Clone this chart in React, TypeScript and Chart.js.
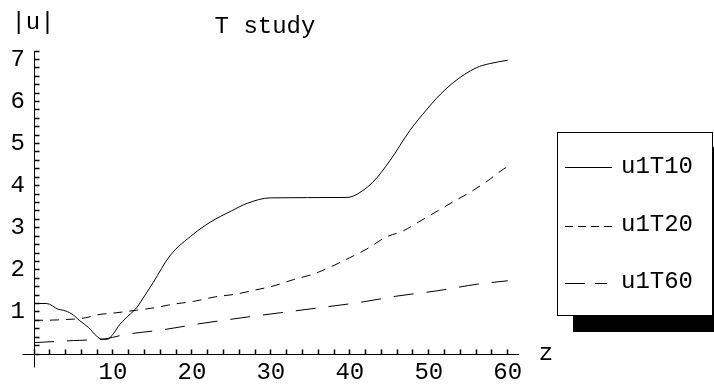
import React, { useEffect, useRef } from "react";
import { Chart, registerables } from "chart.js";

Chart.register(...registerables);

// ---- text ----
const TITLE = "T study";
const Y_AXIS_LABEL = "|u|";
const X_AXIS_LABEL = "z";
const SERIES_NAMES = ["u1T10", "u1T20", "u1T60"];

// ---- data ----
const zT10 = [0, 1.6, 3.1, 3.7, 4.8, 5.8, 6.9, 7.9, 8.6, 9.3, 10.0, 10.9, 12.2, 13.0, 14.0, 15.1, 17.2, 20.2, 22.3, 25.0, 27.0, 29.9, 39.4, 40.4, 42.9, 45.1, 47.6, 49.7, 51.0, 53.1, 56.0, 57.7, 60.0];
const uT10 = [1.2, 1.2, 1.06, 1.04, 0.95, 0.79, 0.63, 0.43, 0.35, 0.35, 0.47, 0.71, 0.95, 1.1, 1.38, 1.7, 2.33, 2.85, 3.13, 3.4, 3.58, 3.71, 3.72, 3.75, 4.08, 4.6, 5.31, 5.8, 6.08, 6.45, 6.8, 6.9, 6.98];

const zT20 = [0, 3, 6.5, 8.0, 10.4, 13.0, 15.3, 17.5, 20.2, 23.0, 25.5, 28.0, 30.4, 32.9, 35.4, 37.7, 40.0, 42.1, 44.5, 46.8, 49.0, 51.3, 53.3, 55.2, 57.5, 59.5, 60.0];
const uT20 = [0.8, 0.81, 0.86, 0.93, 0.98, 1.04, 1.1, 1.18, 1.25, 1.36, 1.42, 1.52, 1.62, 1.77, 1.9, 2.08, 2.29, 2.49, 2.77, 2.93, 3.17, 3.42, 3.64, 3.84, 4.12, 4.4, 4.45];

const zT60 = [0, 5, 9, 11.5, 16.5, 21.0, 26.3, 31.2, 36.2, 41.4, 46.1, 51.0, 56.2, 60.0];
const uT60 = [0.27, 0.32, 0.36, 0.46, 0.58, 0.72, 0.86, 0.98, 1.1, 1.23, 1.38, 1.5, 1.66, 1.74];

// ---- axes ----
const X_MIN = 0;
const X_MAX = 61.3;
const X_STEP = 2;
const X_TICK_LABELS = [10, 20, 30, 40, 50, 60];
const Y_MIN = 0;
const Y_MAX = 7.2;
const Y_STEP = 0.2;
const Y_TICK_LABELS = [1, 2, 3, 4, 5, 6, 7];

const FONT = "'Liberation Mono', 'Courier New', monospace";

function pts(z: number[], u: number[]) {
  return z.map((v, i) => ({ x: v, y: u[i] }));
}

const LEGEND_DASH: number[][] = [[], [8, 5], [20, 10]];
const LEGEND_LEN = [47, 47, 42];

const decorPlugin = {
  id: "decor",
  afterDraw(chart: any) {
    const ctx: CanvasRenderingContext2D = chart.ctx;
    const xs = chart.scales.x;
    const ys = chart.scales.y;
    const al = (p: number) => Math.round(p - 0.5) + 0.5;
    const x0 = al(xs.getPixelForValue(0));
    const y0 = al(ys.getPixelForValue(0));
    const xTicks: number[] = [];
    for (let k = 0; X_MIN + k * X_STEP <= X_MAX + 1e-9; k++) xTicks.push(X_MIN + k * X_STEP);
    const yTicks: number[] = [];
    for (let k = 0; Y_MIN + k * Y_STEP <= Y_MAX + 1e-9; k++) yTicks.push(Y_MIN + k * Y_STEP);

    ctx.save();
    ctx.setLineDash([]);
    ctx.lineWidth = 1;
    ctx.strokeStyle = "#000";
    ctx.beginPath();
    // axis overhangs past the origin
    ctx.moveTo(x0 - 12, y0);
    ctx.lineTo(x0, y0);
    ctx.moveTo(x0, y0);
    ctx.lineTo(x0, y0 + 13);
    ctx.stroke();
    // inward tick marks
    ctx.lineWidth = 1.5;
    ctx.beginPath();
    xTicks.forEach((v) => {
      const p = al(xs.getPixelForValue(v));
      ctx.moveTo(p, y0);
      ctx.lineTo(p, y0 - 5);
    });
    yTicks.forEach((v) => {
      const p = al(ys.getPixelForValue(v));
      ctx.moveTo(x0, p);
      ctx.lineTo(x0 + 5, p);
    });
    ctx.stroke();
    ctx.lineWidth = 1;

    // title and axis labels
    ctx.fillStyle = "#000";
    ctx.font = `24px ${FONT}`;
    ctx.textBaseline = "alphabetic";
    ctx.textAlign = "center";
    ctx.fillText(TITLE, 265, 33);
    ctx.fillText(Y_AXIS_LABEL, 33, 29);
    ctx.fillText(X_AXIS_LABEL, 546, 360);

    // legend with drop shadow
    ctx.fillStyle = "#000";
    ctx.fillRect(573, 147, 160, 185);
    ctx.fillStyle = "#fff";
    ctx.fillRect(557, 132, 156, 184);
    ctx.strokeStyle = "#000";
    ctx.strokeRect(557.5, 132.5, 155, 183);
    const rowsLine = [167, 226, 283];
    const rowsText = [173, 231, 288];
    chart.data.datasets.forEach((ds: any, i: number) => {
      ctx.beginPath();
      ctx.setLineDash(LEGEND_DASH[i]);
      ctx.strokeStyle = ds.borderColor;
      ctx.lineWidth = 1;
      ctx.moveTo(565, rowsLine[i] + 0.5);
      ctx.lineTo(565 + LEGEND_LEN[i], rowsLine[i] + 0.5);
      ctx.stroke();
      ctx.setLineDash([]);
      ctx.fillStyle = "#000";
      ctx.textAlign = "left";
      ctx.fillText(ds.label, 621, rowsText[i]);
    });
    ctx.restore();
  },
};

export default function App() {
  const ref = useRef<HTMLCanvasElement | null>(null);
  useEffect(() => {
    if (!ref.current) return;
    const lineBase = {
      borderColor: "#000",
      borderWidth: 1,
      pointRadius: 0,
      fill: false,
      cubicInterpolationMode: "monotone" as const,
    };
    const chart = new Chart(ref.current, {
      type: "line",
      data: {
        datasets: [
          { ...lineBase, label: SERIES_NAMES[0], data: pts(zT10, uT10), borderDash: [] },
          { ...lineBase, label: SERIES_NAMES[1], data: pts(zT20, uT20), borderDash: [9, 7] },
          { ...lineBase, label: SERIES_NAMES[2], data: pts(zT60, uT60), borderDash: [20, 13] },
        ],
      },
      options: {
        animation: false,
        responsive: false,
        devicePixelRatio: 1,
        layout: { padding: { top: 51, right: 196, bottom: 0, left: 0 } },
        plugins: {
          legend: { display: false },
          title: { display: false },
          tooltip: { enabled: false },
        },
        scales: {
          x: {
            type: "linear",
            position: "bottom",
            min: X_MIN,
            max: X_MAX,
            afterFit: (s: any) => {
              s.height = 34;
            },
            border: { display: true, color: "#000", width: 1 },
            grid: { drawOnChartArea: false, drawTicks: false, tickLength: 0 },
            ticks: {
              stepSize: X_STEP,
              autoSkip: false,
              includeBounds: false,
              maxRotation: 0,
              padding: 4,
              color: "#000",
              font: { family: FONT, size: 24 },
              callback: (v: any) => {
                const n = Math.round(Number(v));
                return Math.abs(Number(v) - n) < 1e-6 && X_TICK_LABELS.includes(n) ? String(n) : "";
              },
            },
          },
          y: {
            type: "linear",
            position: "left",
            min: Y_MIN,
            max: Y_MAX,
            afterFit: (s: any) => {
              s.width = 34;
            },
            border: { display: true, color: "#000", width: 1 },
            grid: { drawOnChartArea: false, drawTicks: false, tickLength: 0 },
            ticks: {
              stepSize: Y_STEP,
              autoSkip: false,
              includeBounds: false,
              padding: 9,
              color: "#000",
              font: { family: FONT, size: 24 },
              callback: (v: any) => {
                const n = Math.round(Number(v));
                return Math.abs(Number(v) - n) < 1e-6 && Y_TICK_LABELS.includes(n) ? String(n) : "";
              },
            },
          },
        },
      },
      plugins: [decorPlugin],
    });
    return () => chart.destroy();
  }, []);
  return (
    <div style={{ position: "fixed", left: 0, top: 0, width: 714, height: 388, background: "#fff" }}>
      <canvas ref={ref} width={714} height={388} style={{ display: "block" }} />
    </div>
  );
}
